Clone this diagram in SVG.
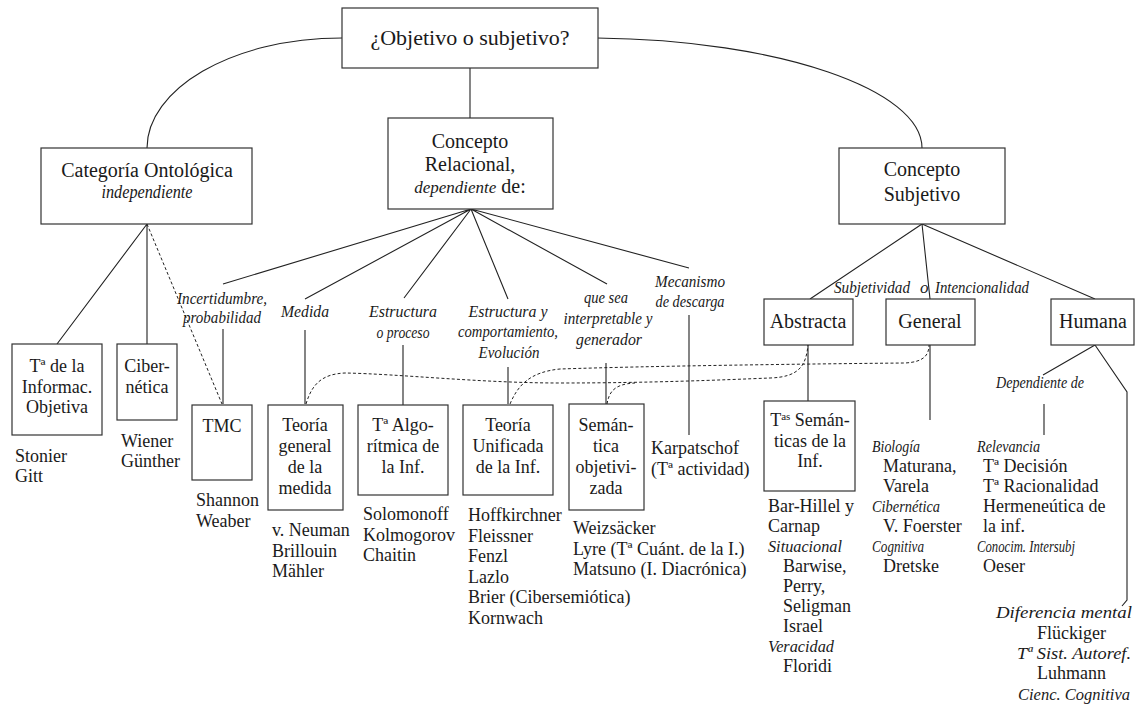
<svg xmlns="http://www.w3.org/2000/svg" width="1136" height="708" viewBox="0 0 1136 708">
<style>
.box{fill:#fff;stroke:#333;stroke-width:1.2}
.ln{fill:none;stroke:#222;stroke-width:1.1}
.dash{stroke-dasharray:3 2.2;stroke-width:1}
text{font-family:"Liberation Serif","Times New Roman",serif;font-size:18px;fill:#1a1a1a}
.c{text-anchor:middle}
.e{text-anchor:end}
.h{font-size:20px}
.i{font-style:italic;font-size:17px}
.sup{font-size:11px}
</style>
<rect width="1136" height="708" fill="#fff"/>
<g id="connectors">
<path class="ln" d="M342,38 C230,38 147,90 147,148"/>
<path class="ln" d="M597,38 C780,40 922,90 922,148"/>
<path class="ln" d="M470,68 L470,118"/>
<path class="ln" d="M147,224 L57,344 M147,224 L147,344"/>
<path class="ln dash" d="M147,224 L222,404"/>
<path class="ln" d="M471,209 L223,284 M471,209 L305,299 M471,209 L404,298 M471,209 L508,299 M471,209 L607,284 M471,209 L689,268"/>
<path class="ln" d="M223,329 L223,404 M305,330 L305,404 M403,345 L403,405 M508,367 L508,404 M606,363 L606,404 M689,315 L689,435"/>
<path class="ln" d="M922,224 L810,299 M922,224 L930,299 M922,224 L1095,299"/>
<path class="ln" d="M808,345 L808,401 M930,345 L930,420"/>
<path class="ln" d="M1095,345 L1043,375 M1044,404 L1044,435"/>
<path class="ln" d="M1095,345 L1127,392 L1127,600 L1122,606"/>
<path class="ln dash" d="M306,404 C312,384 322,374 345,373 C400,374 480,383 560,383 C650,383 720,380 770,378 C800,377 806,365 808,345"/>
<path class="ln dash" d="M607,404 C609,393 613,384 635,383"/>
<path class="ln dash" d="M510,404 C518,385 530,372 560,369 C650,366 800,364 905,363 C924,362 929,355 929,345"/>
</g>
<g id="labels">
<text class="i c" x="222" y="304" textLength="90" lengthAdjust="spacingAndGlyphs">Incertidumbre,</text>
<text class="i c" x="222" y="323" textLength="78" lengthAdjust="spacingAndGlyphs">probabilidad</text>
<text class="i c" x="305" y="317" textLength="48" lengthAdjust="spacingAndGlyphs">Medida</text>
<text class="i c" x="403" y="317" textLength="68" lengthAdjust="spacingAndGlyphs">Estructura</text>
<text class="i c" x="403" y="338" textLength="53" lengthAdjust="spacingAndGlyphs">o proceso</text>
<text class="i c" x="508" y="317" textLength="79" lengthAdjust="spacingAndGlyphs">Estructura y</text>
<text class="i c" x="508" y="337" textLength="100" lengthAdjust="spacingAndGlyphs">comportamiento,</text>
<text class="i c" x="509" y="358" textLength="61" lengthAdjust="spacingAndGlyphs">Evolución</text>
<text class="i c" x="606" y="303" textLength="44" lengthAdjust="spacingAndGlyphs">que sea</text>
<text class="i c" x="608" y="324" textLength="89" lengthAdjust="spacingAndGlyphs">interpretable y</text>
<text class="i c" x="609" y="345" textLength="66" lengthAdjust="spacingAndGlyphs">generador</text>
<text class="i c" x="690" y="287" textLength="70" lengthAdjust="spacingAndGlyphs">Mecanismo</text>
<text class="i c" x="690" y="307" textLength="69" lengthAdjust="spacingAndGlyphs">de descarga</text>
<text class="i" x="834" y="293" textLength="76" lengthAdjust="spacingAndGlyphs">Subjetividad</text>
<text class="i" x="920" y="293">o</text>
<text class="i" x="935" y="293" textLength="94" lengthAdjust="spacingAndGlyphs">Intencionalidad</text>
<text class="i c" x="1040" y="388" textLength="88" lengthAdjust="spacingAndGlyphs">Dependiente de</text>
</g>
<g id="root">
<rect class="box" x="342" y="8" width="256" height="60"/>
<text class="c" x="470" y="45" style="font-size:22px">¿Objetivo o subjetivo?</text>
</g>
<g id="categoria">
<rect class="box" x="41" y="148" width="211" height="76"/>
<text class="c h" x="147" y="177">Categoría Ontológica</text>
<text class="c i" x="147" y="198" style="font-size:18px" textLength="91" lengthAdjust="spacingAndGlyphs">independiente</text>
</g>
<g id="relacional">
<rect class="box" x="388" y="118" width="165" height="91"/>
<text class="c h" x="470" y="148">Concepto</text>
<text class="c h" x="470" y="171">Relacional,</text>
<text class="c h" x="470" y="193"><tspan font-style="italic" font-size="17">dependiente</tspan> de:</text>
</g>
<g id="subjetivo">
<rect class="box" x="839" y="148" width="166" height="76"/>
<text class="c h" x="922" y="176">Concepto</text>
<text class="c h" x="922" y="201">Subjetivo</text>
</g>
<g id="informac">
<rect class="box" x="12" y="344" width="90" height="91"/>
<text class="c" x="57" y="372">Tª de la</text>
<text class="c" x="57" y="393">Informac.</text>
<text class="c" x="57" y="413">Objetiva</text>
<text x="15" y="462">Stonier</text>
<text x="15" y="482">Gitt</text>
</g>
<g id="cibernetica">
<rect class="box" x="117" y="344" width="60" height="76"/>
<text class="c" x="147" y="372">Ciber-</text>
<text class="c" x="147" y="393">nética</text>
<text x="121" y="447">Wiener</text>
<text x="121" y="467">Günther</text>
</g>
<g id="tmc">
<rect class="box" x="192" y="405" width="60" height="75"/>
<text class="c" x="222" y="432">TMC</text>
<text x="196" y="506">Shannon</text>
<text x="196" y="527">Weaber</text>
</g>
<g id="medida">
<rect class="box" x="268" y="405" width="75" height="105"/>
<text class="c" x="305" y="431">Teoría</text>
<text class="c" x="305" y="452">general</text>
<text class="c" x="305" y="473">de la</text>
<text class="c" x="305" y="494">medida</text>
<text x="272" y="536">v. Neuman</text>
<text x="272" y="557">Brillouin</text>
<text x="272" y="577">Mähler</text>
</g>
<g id="algoritmica">
<rect class="box" x="358" y="405" width="90" height="90"/>
<text class="c" x="403" y="431">Tª Algo-</text>
<text class="c" x="403" y="452">rítmica de</text>
<text class="c" x="403" y="473">la Inf.</text>
<text x="363" y="520">Solomonoff</text>
<text x="363" y="541">Kolmogorov</text>
<text x="363" y="561">Chaitin</text>
</g>
<g id="unificada">
<rect class="box" x="463" y="405" width="90" height="90"/>
<text class="c" x="508" y="431">Teoría</text>
<text class="c" x="508" y="452">Unificada</text>
<text class="c" x="508" y="473">de la Inf.</text>
<text x="468" y="521">Hoffkirchner</text>
<text x="468" y="541.5">Fleissner</text>
<text x="468" y="562">Fenzl</text>
<text x="468" y="582.5">Lazlo</text>
<text x="468" y="603">Brier (Cibersemiótica)</text>
<text x="468" y="623.5">Kornwach</text>
</g>
<g id="semantica">
<rect class="box" x="569" y="404" width="75" height="106"/>
<text class="c" x="606" y="431">Semán-</text>
<text class="c" x="606" y="452">tica</text>
<text class="c" x="606" y="473">objetivi-</text>
<text class="c" x="606" y="494">zada</text>
<text x="573" y="534">Weizsäcker</text>
<text x="573" y="555">Lyre (Tª Cuánt. de la I.)</text>
<text x="573" y="575">Matsuno (I. Diacrónica)</text>
</g>
<g id="karpatschof">
<text x="651" y="454">Karpatschof</text>
<text x="651" y="475">(Tª actividad)</text>
</g>
<g id="abstracta">
<rect class="box" x="764" y="299" width="89" height="46"/>
<text class="c h" x="808" y="328">Abstracta</text>
</g>
<g id="general">
<rect class="box" x="886" y="299" width="89" height="46"/>
<text class="c h" x="930" y="328">General</text>
<text class="i" x="872" y="452" textLength="48" lengthAdjust="spacingAndGlyphs">Biología</text>
<text x="883" y="472">Maturana,</text>
<text x="883" y="492">Varela</text>
<text class="i" x="872" y="512" textLength="68" lengthAdjust="spacingAndGlyphs">Cibernética</text>
<text x="883" y="532">V. Foerster</text>
<text class="i" x="872" y="552" textLength="52" lengthAdjust="spacingAndGlyphs">Cognitiva</text>
<text x="883" y="572">Dretske</text>
</g>
<g id="humana">
<rect class="box" x="1051" y="299" width="83" height="46"/>
<text class="c h" x="1093" y="328">Humana</text>
<text class="i" x="977" y="452" textLength="63" lengthAdjust="spacingAndGlyphs">Relevancia</text>
<text x="983" y="472">Tª Decisión</text>
<text x="983" y="492">Tª Racionalidad</text>
<text x="983" y="512">Hermeneútica de</text>
<text x="983" y="532">la inf.</text>
<text class="i" x="977" y="552" textLength="98" lengthAdjust="spacingAndGlyphs">Conocim. Intersubj</text>
<text x="983" y="572">Oeser</text>
<text class="i e" x="1132" y="618" textLength="136" lengthAdjust="spacingAndGlyphs">Diferencia mental</text>
<text x="1037" y="639">Flückiger</text>
<text class="i e" x="1131" y="659" textLength="114" lengthAdjust="spacingAndGlyphs">Tª Sist. Autoref.</text>
<text x="1037" y="679">Luhmann</text>
<text class="i e" x="1130" y="700" textLength="112" lengthAdjust="spacingAndGlyphs">Cienc. Cognitiva</text>
</g>
<g id="semanticas-inf">
<rect class="box" x="764" y="401" width="91" height="90"/>
<text class="c" x="810" y="426">T<tspan class="sup" dy="-6">as</tspan><tspan dy="6"> Semán-</tspan></text>
<text class="c" x="810" y="447">ticas de la</text>
<text class="c" x="810" y="467">Inf.</text>
<text x="768" y="512">Bar-Hillel y</text>
<text x="768" y="532">Carnap</text>
<text class="i" x="768" y="552" textLength="74" lengthAdjust="spacingAndGlyphs">Situacional</text>
<text x="783" y="572">Barwise,</text>
<text x="783" y="592">Perry,</text>
<text x="783" y="612">Seligman</text>
<text x="783" y="632">Israel</text>
<text class="i" x="768" y="652" textLength="66" lengthAdjust="spacingAndGlyphs">Veracidad</text>
<text x="783" y="672">Floridi</text>
</g>
</svg>
